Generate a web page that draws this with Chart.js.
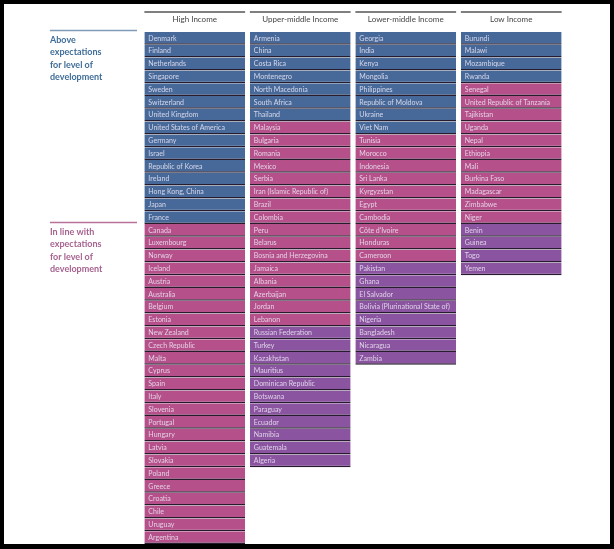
<!DOCTYPE html>
<html>
<head>
<meta charset="utf-8">
<script src="https://cdn.jsdelivr.net/npm/chart.js@4"></script>
<style>
  body { margin: 0; background: #fff; }
  .frame {
    width: 614px; height: 549px; box-sizing: border-box;
    border-style: solid; border-color: #000;
    border-width: 4px 4px 5px 4px;
  }
  canvas { display: block; }
</style>
</head>
<body>
<div class="frame"><canvas id="chart" width="606" height="540"></canvas></div>
<script>
const columns = ['High Income', 'Upper-middle Income', 'Lower-middle Income', 'Low Income'];

const highAbove = ['Denmark', 'Finland', 'Netherlands', 'Singapore', 'Sweden', 'Switzerland', 'United Kingdom',
  'United States of America', 'Germany', 'Israel', 'Republic of Korea', 'Ireland', 'Hong Kong, China', 'Japan', 'France'];
const highInLine = ['Canada', 'Luxembourg', 'Norway', 'Iceland', 'Austria', 'Australia', 'Belgium', 'Estonia',
  'New Zealand', 'Czech Republic', 'Malta', 'Cyprus', 'Spain', 'Italy', 'Slovenia', 'Portugal', 'Hungary', 'Latvia',
  'Slovakia', 'Poland', 'Greece', 'Croatia', 'Chile', 'Uruguay', 'Argentina'];
const highBelow = [];

const upperMiddleAbove = ['Armenia', 'China', 'Costa Rica', 'Montenegro', 'North Macedonia', 'South Africa', 'Thailand'];
const upperMiddleInLine = ['Malaysia', 'Bulgaria', 'Romania', 'Mexico', 'Serbia', 'Iran (Islamic Republic of)', 'Brazil',
  'Colombia', 'Peru', 'Belarus', 'Bosnia and Herzegovina', 'Jamaica', 'Albania', 'Azerbaijan', 'Jordan', 'Lebanon'];
const upperMiddleBelow = ['Russian Federation', 'Turkey', 'Kazakhstan', 'Mauritius', 'Dominican Republic', 'Botswana',
  'Paraguay', 'Ecuador', 'Namibia', 'Guatemala', 'Algeria'];

const lowerMiddleAbove = ['Georgia', 'India', 'Kenya', 'Mongolia', 'Philippines', 'Republic of Moldova', 'Ukraine', 'Viet Nam'];
const lowerMiddleInLine = ['Tunisia', 'Morocco', 'Indonesia', 'Sri Lanka', 'Kyrgyzstan', 'Egypt', 'Cambodia',
  'Côte d\'Ivoire', 'Honduras', 'Cameroon'];
const lowerMiddleBelow = ['Pakistan', 'Ghana', 'El Salvador', 'Bolivia (Plurinational State of)', 'Nigeria',
  'Bangladesh', 'Nicaragua', 'Zambia'];

const lowAbove = ['Burundi', 'Malawi', 'Mozambique', 'Rwanda'];
const lowInLine = ['Senegal', 'United Republic of Tanzania', 'Tajikistan', 'Uganda', 'Nepal', 'Ethiopia', 'Mali',
  'Burkina Faso', 'Madagascar', 'Zimbabwe', 'Niger'];
const lowBelow = ['Benin', 'Guinea', 'Togo', 'Yemen'];

const groupLabels = ['Above expectations for level of development', 'In line with expectations for level of development',
  'Below expectations for level of development'];

// one list of [above, inLine, below] per column
const byColumn = [
  [highAbove, highInLine, highBelow],
  [upperMiddleAbove, upperMiddleInLine, upperMiddleBelow],
  [lowerMiddleAbove, lowerMiddleInLine, lowerMiddleBelow],
  [lowAbove, lowInLine, lowBelow],
];

const colors = ['#46699a', '#b5508a', '#8b54a0'];

// build a floating bar (one row) for every country
const cells = [[], [], []];
byColumn.forEach((groups, c) => {
  let row = 0;
  groups.forEach((list, g) => {
    list.forEach(name => {
      cells[g].push({ x: columns[c], y: [row, row + 1], country: name });
      row++;
    });
  });
});

const cellText = {
  id: 'cellText',
  afterDatasetsDraw(chart) {
    const ctx = chart.ctx;
    ctx.save();
    ctx.font = '7px Lato';
    ctx.fillStyle = 'rgba(236,232,244,0.85)';
    ctx.textBaseline = 'middle';
    ctx.textAlign = 'left';
    chart.data.datasets.forEach((ds, i) => {
      chart.getDatasetMeta(i).data.forEach((bar, j) => {
        const p = bar.getProps(['x', 'y', 'base', 'width'], true);
        ctx.fillText(ds.data[j].country, p.x - p.width / 2 + 4, (p.y + p.base) / 2);
      });
    });
    ctx.restore();
  }
};

const headers = {
  id: 'headers',
  afterDraw(chart) {
    const ctx = chart.ctx;
    const xs = chart.scales.x, ys = chart.scales.y;
    const half = xs.width / columns.length * 0.955 / 2;
    ctx.save();
    columns.forEach((name, i) => {
      const cx = xs.getPixelForValue(i);
      ctx.strokeStyle = '#555';
      ctx.lineWidth = 1.5;
      ctx.beginPath();
      ctx.moveTo(cx - half, 8);
      ctx.lineTo(cx + half, 8);
      ctx.stroke();
      ctx.font = '8px Lato';
      ctx.fillStyle = '#444';
      ctx.textAlign = 'center';
      ctx.textBaseline = 'middle';
      ctx.fillText(name, cx, 15.5);
    });

    // side labels, tied to the first row of each group in the high income column
    const starts = [0, highAbove.length];
    const tints = [['#7f9bb8', '#3f6d98'], ['#b9719c', '#a6628f']];
    const lines = [['Above', 'expectations', 'for level of', 'development'],
                   ['In line with', 'expectations', 'for level of', 'development']];
    starts.forEach((r, k) => {
      const top = ys.getPixelForValue(r);
      ctx.strokeStyle = tints[k][0];
      ctx.lineWidth = 1.5;
      ctx.beginPath();
      ctx.moveTo(46, top - 1.5);
      ctx.lineTo(133, top - 1.5);
      ctx.stroke();
      ctx.font = 'bold 9px Lato';
      ctx.fillStyle = tints[k][1];
      ctx.textAlign = 'left';
      ctx.textBaseline = 'middle';
      lines[k].forEach((t, n) => ctx.fillText(t, 46, top + 8 + n * 12.5));
    });
    ctx.restore();
  }
};

new Chart('chart', {
  type: 'bar',
  data: {
    labels: columns,
    datasets: groupLabels.map((label, g) => ({
      label: label,
      data: cells[g],
      backgroundColor: colors[g],
      borderColor: '#261c2e',
      borderWidth: { top: 0, left: 0, right: 0, bottom: 1.5 },
      borderSkipped: false,
      grouped: false,
      barPercentage: 0.955,
      categoryPercentage: 1,
    })),
  },
  options: {
    responsive: false,
    animation: false,
    layout: { padding: { top: 28, bottom: 0, left: 138, right: 46 } },
    plugins: { legend: { display: false }, tooltip: { enabled: false } },
    scales: {
      x: { display: false },
      y: { display: false, reverse: true, min: 0, max: 40 },
    },
  },
  plugins: [cellText, headers],
});
</script>
</body>
</html>
